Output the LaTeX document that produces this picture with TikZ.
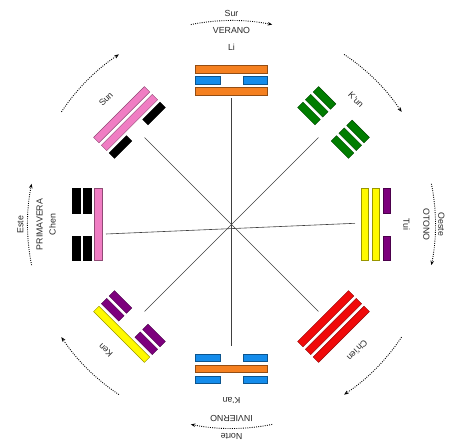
\documentclass[tikz,border=0pt]{standalone}
\usepackage{fontspec}
\setmainfont{Liberation Sans}
\usetikzlibrary{arrows.meta}
\definecolor{cOrange}{RGB}{245,128,32}
\definecolor{cBlue}{RGB}{20,140,235}
\definecolor{cGreen}{RGB}{0,125,0}
\definecolor{cRed}{RGB}{240,10,10}
\definecolor{cPink}{RGB}{240,125,195}
\definecolor{cBlack}{RGB}{0,0,0}
\definecolor{cYellow}{RGB}{255,250,0}
\definecolor{cPurple}{RGB}{125,0,125}
\definecolor{labgray}{RGB}{40,40,40}
\tikzset{
  barbox/.style={line width=0.4pt},
  spoke/.style={draw=black!75, line width=0.6pt},
  lab/.style={font=\fontsize{8.8}{10}\selectfont, text=labgray, inner sep=0pt},
  cyclearc/.style={draw=black, line width=0.9pt, dash pattern=on 0.9pt off 1.3pt,
    -{Stealth[length=4.5pt,width=3.6pt]}},
}
% one line of a trigram: #1 level (0 inner), #2 1 solid / 0 broken, #3 colour
\newcommand\drawbar[3]{%
  \pgfmathsetmacro\ya{129.5+#1*11}%
  \pgfmathsetmacro\yb{\ya+7.6}%
  \ifnum#2=1
    \filldraw[barbox, fill=#3, draw=#3!60!black] (-36,\ya) rectangle (36,\yb);
  \else
    \filldraw[barbox, fill=#3, draw=#3!60!black] (-36,\ya) rectangle (-11.5,\yb);
    \filldraw[barbox, fill=#3, draw=#3!60!black] (11.5,\ya) rectangle (36,\yb);
  \fi}
\newcommand\drawtrigram[7]{%
  \begin{scope}[rotate=#1-90]
    \drawbar{0}{#2}{#3}\drawbar{1}{#4}{#5}\drawbar{2}{#6}{#7}
  \end{scope}}
\begin{document}
\begin{tikzpicture}[x=1pt,y=1pt]
\useasboundingbox (-231.5,-216.5) rectangle (227.5,224.5);
\coordinate (c) at (0,0);
% spokes
\coordinate (eN) at (90:126);
\coordinate (eS) at (-90:122);
\coordinate (eW) at (-125.5,-9.5);
\coordinate (eE) at (123.5,1.2);
\coordinate (eNE) at (45:123);
\coordinate (eNW) at (135:123);
\coordinate (eSE) at (-45:123);
\coordinate (eSW) at (-135:123);
\draw[spoke] (eN) -- (eS);
\draw[spoke] (eW) -- (eE);
\draw[spoke] (eNE) -- (eSW);
\draw[spoke] (eNW) -- (eSE);
% trigrams (inner line first)
\drawtrigram{90}{1}{cOrange}{0}{cBlue}{1}{cOrange}
\drawtrigram{45}{0}{cGreen}{0}{cGreen}{0}{cGreen}
\drawtrigram{0}{1}{cYellow}{1}{cYellow}{0}{cPurple}
\drawtrigram{-45}{1}{cRed}{1}{cRed}{1}{cRed}
\drawtrigram{-90}{0}{cBlue}{1}{cOrange}{0}{cBlue}
\drawtrigram{-135}{0}{cPurple}{0}{cPurple}{1}{cYellow}
\drawtrigram{180}{1}{cPink}{0}{cBlack}{0}{cBlack}
\drawtrigram{135}{0}{cBlack}{1}{cPink}{1}{cPink}
% trigram names
\node[lab, rotate=0] (nLi) at (90:177.5) {Li};
\node[lab, rotate=-45] (nKun) at (45:176) {K'un};
\node[lab, rotate=-90] (nTui) at (0:175) {Tui};
\node[lab, rotate=-135] (nChien) at (-45:178) {Ch'ien};
\node[lab, rotate=180] (nKan) at (-90:175.5) {K'an};
\node[lab, rotate=-225] (nKen) at (-135:178) {Ken};
\node[lab, rotate=90] (nChen) at (180:179) {Chen};
\node[lab, rotate=45] (nSun) at (135:177.5) {Sun};
% seasons
\node[lab, rotate=0] (sN) at (90:194.5) {VERANO};
\node[lab, rotate=-90] (sE) at (0:195) {OTONO};
\node[lab, rotate=180] (sS) at (-90:194.5) {INVIERNO};
\node[lab, rotate=90] (sW) at (180:192) {PRIMAVERA};
% directions
\node[lab, rotate=0] (dN) at (90:211.5) {Sur};
\node[lab, rotate=-90] (dE) at (0:210) {Oeste};
\node[lab, rotate=180] (dS) at (-90:211.5) {Norte};
\node[lab, rotate=90] (dW) at (180:211) {Este};
% cycle arcs (clockwise)
\foreach \a in {90,45,0,-45,-90,-135,180,135}{
  \draw[cyclearc] (\a+11.5:204) arc[start angle=\a+11.5, end angle=\a-11.5, radius=204pt];
}
\end{tikzpicture}
\end{document}
